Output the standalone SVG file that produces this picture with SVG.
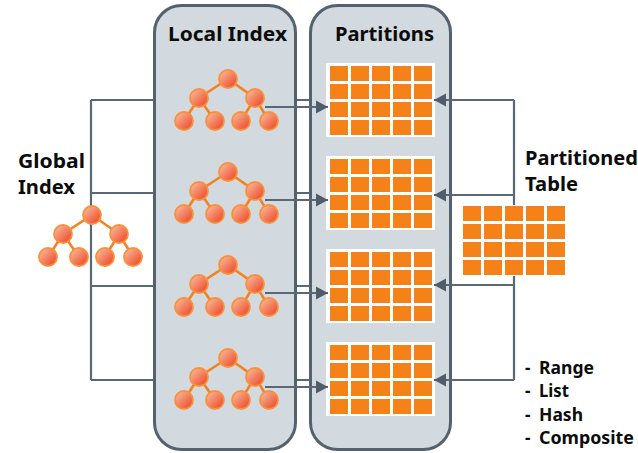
<svg xmlns="http://www.w3.org/2000/svg" xmlns:xlink="http://www.w3.org/1999/xlink" width="638" height="453" viewBox="0 0 638 453">
<style>
.panel{fill:#d2d9df;stroke:#54626f;stroke-width:3}
.wire{fill:none;stroke:#5a6875;stroke-width:2.2}
.edge{fill:none;stroke:#f58220;stroke-width:2.6}
.dot{fill:url(#ball);stroke:#f9913a;stroke-width:1.8}
.cell{fill:#f58219}
.t{font-family:"Noto Sans","Liberation Sans",sans-serif;font-weight:700;fill:#0c0c0c}
.h{font-size:20px}
.s{font-size:17px}
</style>
<defs>
<linearGradient id="ball" x1="0.1" y1="0.1" x2="0.9" y2="0.9"><stop offset="0" stop-color="#f8b898"/><stop offset="1" stop-color="#ee4a2a"/></linearGradient>
<marker id="ah" markerUnits="userSpaceOnUse" markerWidth="14" markerHeight="14" refX="12" refY="7" orient="auto"><path d="M0 0.500L12 7L0 13.500Z" fill="#4f5d6a"/></marker>
<g id="cells">
<rect class="cell" x="0" y="0" width="18" height="15"/><rect class="cell" x="21" y="0" width="18" height="15"/><rect class="cell" x="42" y="0" width="18" height="15"/><rect class="cell" x="63" y="0" width="18" height="15"/><rect class="cell" x="84" y="0" width="18" height="15"/>
<rect class="cell" x="0" y="18" width="18" height="15"/><rect class="cell" x="21" y="18" width="18" height="15"/><rect class="cell" x="42" y="18" width="18" height="15"/><rect class="cell" x="63" y="18" width="18" height="15"/><rect class="cell" x="84" y="18" width="18" height="15"/>
<rect class="cell" x="0" y="36" width="18" height="15"/><rect class="cell" x="21" y="36" width="18" height="15"/><rect class="cell" x="42" y="36" width="18" height="15"/><rect class="cell" x="63" y="36" width="18" height="15"/><rect class="cell" x="84" y="36" width="18" height="15"/>
<rect class="cell" x="0" y="54" width="18" height="15"/><rect class="cell" x="21" y="54" width="18" height="15"/><rect class="cell" x="42" y="54" width="18" height="15"/><rect class="cell" x="63" y="54" width="18" height="15"/><rect class="cell" x="84" y="54" width="18" height="15"/>
</g>
<g id="grid"><rect x="-4" y="-3" width="109" height="74" fill="#fff"/><use xlink:href="#cells"/></g>
<g id="tree">
<path class="edge" d="M0 0L-29 19L-44 42M-29 19L-13 42M0 0L27 19L13 42M27 19L41 42"/>
<circle class="dot" cx="0" cy="0" r="9"/><circle class="dot" cx="-29" cy="19" r="9"/><circle class="dot" cx="27" cy="19" r="9"/>
<circle class="dot" cx="-44" cy="42" r="9"/><circle class="dot" cx="-13" cy="42" r="9"/><circle class="dot" cx="13" cy="42" r="9"/><circle class="dot" cx="41" cy="42" r="9"/>
</g>
</defs>
<g id="connectors-back" class="wire">
<path d="M91 100V380M91 100H310M91 193H310M91 286H310M91 380H310"/>
<path d="M514 100V380"/>
</g>
<g id="local-index"><rect class="panel" x="154.500" y="5.500" width="141" height="444" rx="27"/><text class="t h" x="168" y="41" textLength="119" lengthAdjust="spacingAndGlyphs">Local Index</text></g>
<g id="partitions"><rect class="panel" x="310.500" y="5.500" width="140" height="444" rx="27"/><text class="t h" x="335" y="41" textLength="99" lengthAdjust="spacingAndGlyphs">Partitions</text></g>
<g id="local-trees">
<use xlink:href="#tree" x="228" y="79"/><use xlink:href="#tree" x="228" y="172"/><use xlink:href="#tree" x="228" y="265"/><use xlink:href="#tree" x="228" y="358"/>
</g>
<g id="partition-grids">
<use xlink:href="#grid" x="330" y="66"/><use xlink:href="#grid" x="330" y="159"/><use xlink:href="#grid" x="330" y="252"/><use xlink:href="#grid" x="330" y="345"/>
</g>
<g id="connectors" class="wire">
<path d="M265 107H328" marker-end="url(#ah)"/><path d="M265 200H328" marker-end="url(#ah)"/><path d="M265 293H328" marker-end="url(#ah)"/><path d="M265 387H328" marker-end="url(#ah)"/>
<path d="M514 100H434" marker-end="url(#ah)"/><path d="M514 195H434" marker-end="url(#ah)"/><path d="M514 285H434" marker-end="url(#ah)"/><path d="M514 380H434" marker-end="url(#ah)"/>
</g>
<g id="global-index"><use xlink:href="#tree" x="92" y="215"/><text class="t h" x="18" y="168" textLength="67" lengthAdjust="spacingAndGlyphs">Global</text><text class="t h" x="18" y="194" textLength="57" lengthAdjust="spacingAndGlyphs">Index</text></g>
<g id="partitioned-table"><rect x="462" y="205" width="104" height="71" fill="#fff"/><use xlink:href="#cells" x="463" y="206"/><text class="t h" x="525" y="165" textLength="113" lengthAdjust="spacingAndGlyphs">Partitioned</text><text class="t h" x="525" y="191" textLength="53" lengthAdjust="spacingAndGlyphs">Table</text></g>
<g id="types">
<text class="t s" x="525" y="374">-</text><text class="t s" x="539" y="374" textLength="55" lengthAdjust="spacingAndGlyphs">Range</text>
<text class="t s" x="525" y="397">-</text><text class="t s" x="539" y="397" textLength="30" lengthAdjust="spacingAndGlyphs">List</text>
<text class="t s" x="525" y="421">-</text><text class="t s" x="539" y="421" textLength="44" lengthAdjust="spacingAndGlyphs">Hash</text>
<text class="t s" x="525" y="444">-</text><text class="t s" x="539" y="444" textLength="95" lengthAdjust="spacingAndGlyphs">Composite</text>
</g>
</svg>
